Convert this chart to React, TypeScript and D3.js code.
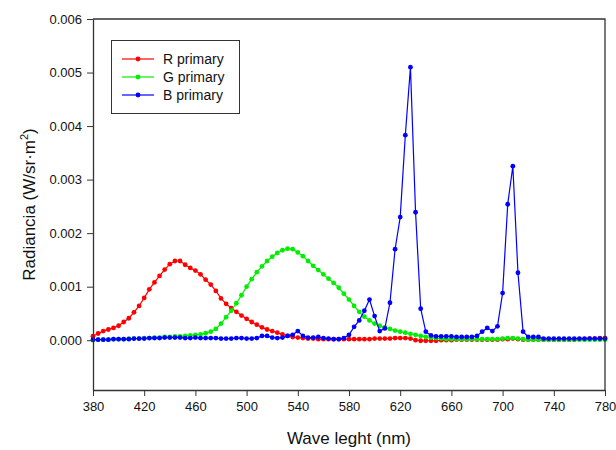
import React, { useEffect, useRef } from 'react';
import * as d3 from 'd3';

// wavelengths, every 4 nm from 380 to 780
const wavelengths: number[] = d3.range(380, 781, 4);

const redPrimary: number[] = [
  0.000075, 0.000125, 0.00017, 0.0002, 0.00023, 0.00027, 0.00034, 0.00041, 0.00052, 0.00064,
  0.00079, 0.00095, 0.00108, 0.0012, 0.00132, 0.00142, 0.00148, 0.00148, 0.00141, 0.00135,
  0.0013, 0.00123, 0.00113, 0.00104, 0.00092, 0.00078, 0.00068, 0.0006, 0.00053, 0.00046,
  0.0004, 0.00034, 0.00029, 0.00024, 0.0002, 0.00017, 0.00014, 0.00011, 0.00008, 0.00006,
  0.00005, 0.00004, 0.00003, 0.00003, 0.00002, 0.00002, 0.00002, 0.00002, 0.00002, 0.00002,
  0.00002, 0.00002, 0.00002, 0.00002, 0.00002, 0.00003, 0.00003, 0.00003, 0.00003, 0.00004,
  0.00004, 0.00004, 0.00003, 0.0, -0.00001, -0.00001, -0.00001, -0.00001, 0.0, 0.0,
  0.0, 0.00001, 0.00001, 0.00001, 0.00001, 0.00001, 0.00001, 0.00001, 0.00001, 0.00001,
  0.00002, 0.00002, 0.00003, 0.00002, 0.00001, 0.00001, 0.00001, 0.00001, 0.00001, 0.00001,
  0.00001, 0.00001, 0.00001, 0.00001, 0.00001, 0.00002, 0.00002, 0.00003, 0.00003, 0.00004,
  0.00004,
];

const greenPrimary: number[] = [
  0.0, 0.00001, 0.00001, 0.00001, 0.00002, 0.00002, 0.00002, 0.00003, 0.00003, 0.00003,
  0.00004, 0.00004, 0.00005, 0.00005, 0.00006, 0.00006, 0.00007, 0.00007, 0.00008, 0.00009,
  0.0001, 0.00011, 0.00013, 0.00016, 0.00021, 0.00031, 0.00043, 0.00055, 0.00069, 0.00084,
  0.001, 0.00114, 0.00127, 0.00138, 0.00148, 0.00156, 0.00163, 0.00168, 0.00171, 0.0017,
  0.00164, 0.00157, 0.00148, 0.00139, 0.00131, 0.00123, 0.00115, 0.00107, 0.00098, 0.00087,
  0.00076, 0.00064, 0.00053, 0.00044, 0.00037, 0.00031, 0.00027, 0.00024, 0.00021, 0.00018,
  0.00016, 0.00014, 0.00012, 0.0001, 0.00008, 0.00006, 0.00005, 0.00004, 0.00003, 0.00002,
  0.00002, 0.00002, 0.00002, 0.00002, 0.00002, 0.00002, 0.00002, 0.00002, 0.00002, 0.00002,
  0.00003, 0.00004, 0.00004, 0.00003, 0.00002, 0.00001, 0.00001, 0.00001, 0.00001, 0.00001,
  0.00001, 0.00001, 0.00001, 0.00001, 0.00001, 0.00001, 0.00001, 0.00001, 0.00001, 0.00001,
  0.00001,
];

const bluePrimary: number[] = [
  0.00001, 0.00001, 0.00001, 0.00001, 0.00002, 0.00002, 0.00002, 0.00002, 0.00003, 0.00003,
  0.00003, 0.00004, 0.00004, 0.00004, 0.00005, 0.00005, 0.00005, 0.00005, 0.00004, 0.00004,
  0.00005, 0.00004, 0.00004, 0.00004, 0.00004, 0.00003, 0.00003, 0.00003, 0.00004, 0.00004,
  0.00003, 0.00003, 0.00004, 0.00008, 0.00008, 0.00005, 0.00004, 0.00005, 0.00008, 0.0001,
  0.00017, 0.00008, 0.00005, 0.00005, 0.00006, 0.00004, 0.00003, 0.00002, 0.00002, 0.00004,
  0.0001, 0.00025, 0.00037, 0.00055, 0.00076, 0.00045, 0.00017, 0.00022, 0.0007, 0.0017,
  0.0023, 0.00383, 0.0051, 0.00239, 0.00059, 0.00016, 0.00009, 0.00007, 0.00007, 0.00007,
  0.00007, 0.00006, 0.00006, 0.00006, 0.00006, 0.00008, 0.00016, 0.00023, 0.00017, 0.00026,
  0.00088, 0.00254, 0.00325, 0.00126, 0.00016, 0.00006, 0.00006, 0.00006, 0.00003, 0.00003,
  0.00003, 0.00003, 0.00003, 0.00003, 0.00003, 0.00003, 0.00003, 0.00003, 0.00003, 0.00003,
  0.00003,
];

const seriesNames = ['R primary', 'G primary', 'B primary'];
const seriesColors = ['#ff0000', '#00ee00', '#0000ff'];
const xTicks = [380, 420, 460, 500, 540, 580, 620, 660, 700, 740, 780];
const yTicks = [0, 0.001, 0.002, 0.003, 0.004, 0.005, 0.006];

function App() {
  const svgRef = useRef<SVGSVGElement>(null);

  useEffect(() => {
    const width = 616;
    const height = 450;
    const margin = { top: 19, right: 11, bottom: 60, left: 93 };
    const font = 'Arial, "Liberation Sans", sans-serif';

    const svg = d3.select(svgRef.current)
      .attr('width', width)
      .attr('height', height);
    svg.selectAll('*').remove();

    const xScale = d3.scaleLinear()
      .domain([380, 780])
      .range([margin.left, width - margin.right]);

    const yScale = d3.scaleLinear()
      .domain([-0.00093, 0.006])
      .range([height - margin.bottom, margin.top]);

    const series = [redPrimary, greenPrimary, bluePrimary].map((vals, i) => ({
      name: seriesNames[i],
      color: seriesColors[i],
      points: vals.map((v, j) => ({ wl: wavelengths[j], v })),
    }));

    const line = d3.line<{ wl: number; v: number }>()
      .x(d => xScale(d.wl))
      .y(d => yScale(d.v));

    series.forEach(s => {
      const g = svg.append('g');
      g.append('path')
        .datum(s.points)
        .attr('fill', 'none')
        .attr('stroke', s.color)
        .attr('stroke-width', 1.2)
        .attr('d', line);
      g.selectAll('circle')
        .data(s.points)
        .enter()
        .append('circle')
        .attr('cx', d => xScale(d.wl))
        .attr('cy', d => yScale(d.v))
        .attr('r', 2.4)
        .attr('fill', s.color);
    });

    // frame (top and right)
    const x0 = xScale.range()[0];
    const x1 = xScale.range()[1];
    const y0 = yScale.range()[0];
    const y1 = yScale.range()[1];
    svg.append('path')
      .attr('d', `M${x0},${y1}H${x1}V${y0}`)
      .attr('fill', 'none')
      .attr('stroke', '#333')
      .attr('stroke-width', 1.3);

    // X Axis
    const xAxis = svg.append('g')
      .attr('transform', `translate(0,${y0})`)
      .call(d3.axisBottom(xScale).tickValues(xTicks).tickSize(6).tickSizeOuter(0).tickPadding(6));
    xAxis.selectAll('text')
      .attr('font-family', font)
      .attr('font-size', 13)
      .attr('fill', '#111');

    // Y Axis
    const yAxis = svg.append('g')
      .attr('transform', `translate(${x0},0)`)
      .call(d3.axisLeft(yScale).tickValues(yTicks).tickFormat(d3.format('.3f')).tickSize(6).tickSizeOuter(0).tickPadding(5));
    yAxis.selectAll('text')
      .attr('font-family', font)
      .attr('font-size', 13)
      .attr('fill', '#111');

    svg.selectAll('.domain').attr('stroke', '#333').attr('stroke-width', 1.3);
    svg.selectAll('.tick line').attr('stroke', '#333');

    // axis titles
    svg.append('text')
      .attr('x', (x0 + x1) / 2)
      .attr('y', 444)
      .attr('text-anchor', 'middle')
      .attr('font-family', font)
      .attr('font-size', 17)
      .attr('fill', '#111')
      .text('Wave leght (nm)');

    const yTitle = svg.append('text')
      .attr('transform', `translate(35,${(y0 + y1) / 2}) rotate(-90)`)
      .attr('text-anchor', 'middle')
      .attr('font-family', font)
      .attr('font-size', 17)
      .attr('fill', '#111');
    yTitle.append('tspan').text('Radiancia (W/sr\u00b7m');
    yTitle.append('tspan').attr('font-size', 11).attr('dy', -7).text('2');
    yTitle.append('tspan').attr('dy', 7).text(')');

    // legend
    const legend = svg.append('g');
    legend.append('rect')
      .attr('x', 111.5)
      .attr('y', 40.5)
      .attr('width', 128)
      .attr('height', 73)
      .attr('fill', 'white')
      .attr('stroke', '#333')
      .attr('stroke-width', 1);
    series.forEach((s, i) => {
      const ly = 59 + i * 18;
      legend.append('line')
        .attr('x1', 122).attr('x2', 154)
        .attr('y1', ly).attr('y2', ly)
        .attr('stroke', s.color)
        .attr('stroke-width', 1.2);
      legend.append('circle')
        .attr('cx', 138).attr('cy', ly)
        .attr('r', 2.4)
        .attr('fill', s.color);
      legend.append('text')
        .attr('x', 163)
        .attr('y', ly + 5)
        .attr('font-family', font)
        .attr('font-size', 14)
        .attr('fill', '#111')
        .text(s.name);
    });
  }, []);

  return (
    <div style={{ position: 'absolute', left: 0, top: 0 }}>
      <svg ref={svgRef}></svg>
    </div>
  );
}

export default App;
